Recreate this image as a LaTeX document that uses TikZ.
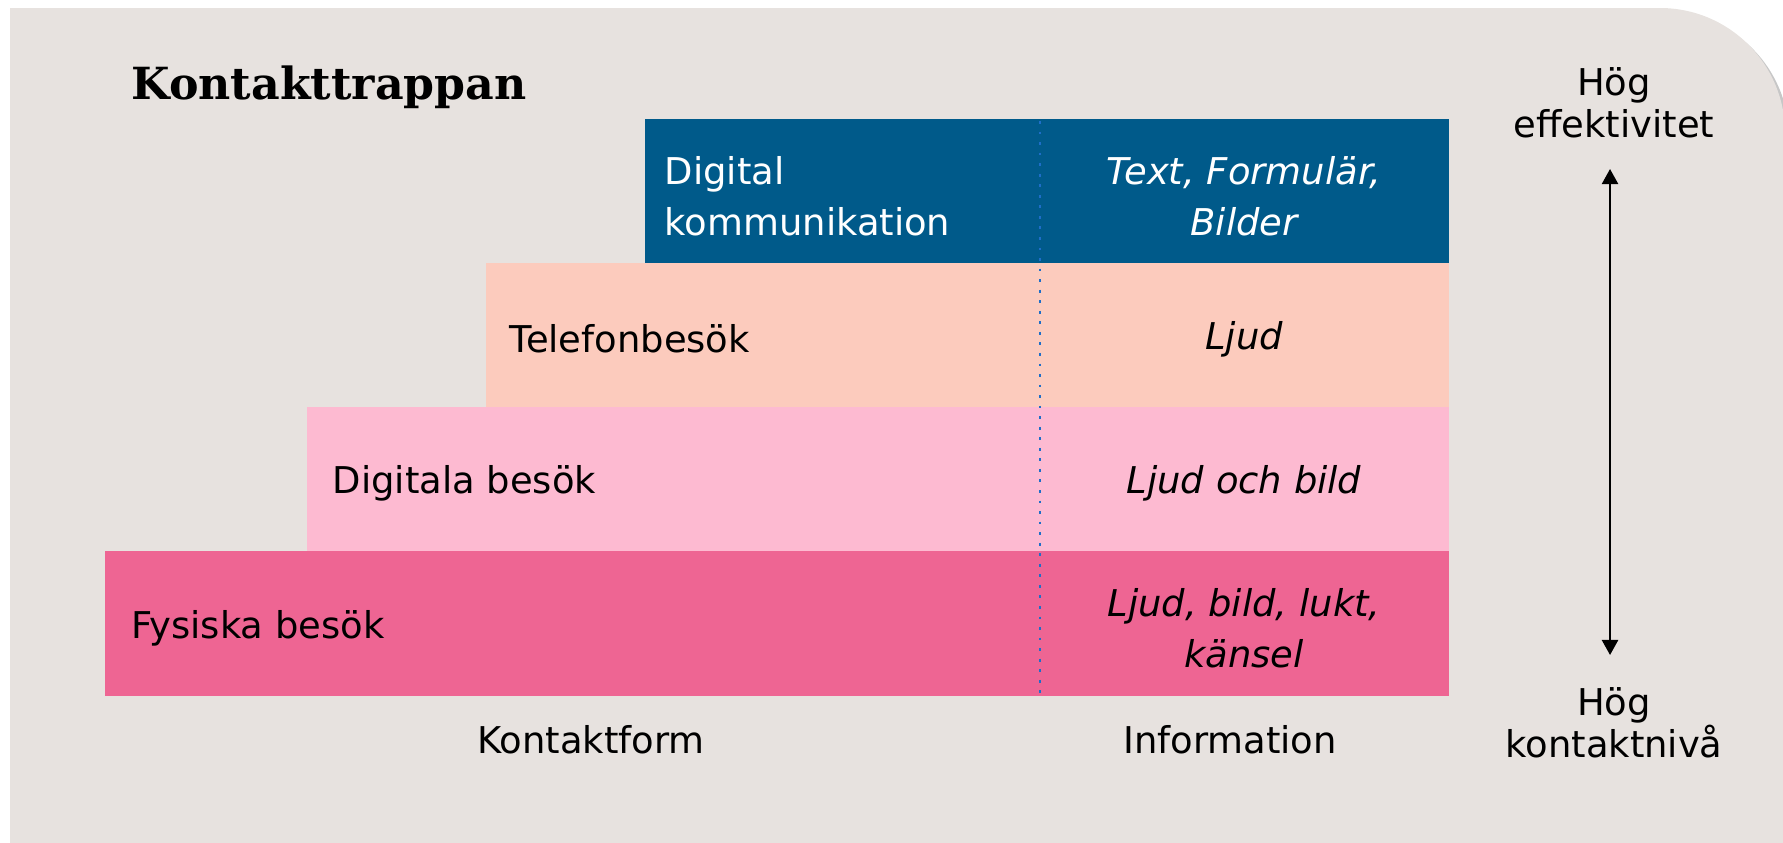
\documentclass[tikz,border=0pt]{standalone}
\usepackage{fontspec}
\setmainfont{DejaVu Sans}
\newfontfamily\titlefont{DejaVu Serif}
\usetikzlibrary{arrows.meta}
\definecolor{bgcol}{RGB}{231,226,223}
\definecolor{stepblue}{RGB}{0,90,138}
\definecolor{steppeach}{RGB}{252,203,189}
\definecolor{steppink}{RGB}{253,186,209}
\definecolor{stepred}{RGB}{238,101,147}
\definecolor{dotblue}{RGB}{30,110,200}
\tikzset{
  steptxt/.style={inner sep=0pt,anchor=west,align=left},
  infotxt/.style={inner sep=0pt,align=center,font=\fontsize{10.5}{14.5}\selectfont\itshape},
  captxt/.style={inner sep=0pt,align=center,font=\fontsize{10.5}{11.8}\selectfont}
}

\begin{document}
\begin{tikzpicture}[x=0.1mm,y=-0.1mm,font=\fontsize{10.5}{14.5}\selectfont]
\useasboundingbox (0,0) rectangle (1783,842);
% card
\fill[black!22] (14,12)--(1664,12) arc[start angle=-90,end angle=0,radius=125]--(1789,850)--(14,850)--cycle;
\fill[bgcol] (10,8)--(1660,8) arc[start angle=-90,end angle=0,radius=125]--(1785,850)--(10,850)--cycle;
\node[inner sep=0pt,anchor=west,font=\titlefont\fontsize{12.6}{14}\selectfont\bfseries] (title) at (131,87) {Kontakttrappan};
% steps
\fill[stepblue] (645,119) rectangle (1449,263);
\fill[steppeach] (486,263) rectangle (1449,407);
\fill[steppink] (307,407) rectangle (1449,551);
\fill[stepred] (105,551) rectangle (1449,696);
\draw[dotblue,line width=0.8pt,dash pattern=on 0.8pt off 2.2pt] (1040,121)--(1040,696);
\node[steptxt,white] (dk) at (664,196) {Digital\\kommunikation};
\node[infotxt,white] (dkinfo) at (1244,196) {Text, Formulär,\\Bilder};
\node[steptxt] (tel) at (509,339) {Telefonbesök};
\node[infotxt] (telinfo) at (1244,339) {Ljud};
\node[steptxt] (dig) at (332,483) {Digitala besök};
\node[infotxt] (diginfo) at (1244,483) {Ljud och bild};
\node[steptxt] (fys) at (131,628) {Fysiska besök};
\node[infotxt] (fysinfo) at (1244,628) {Ljud, bild, lukt,\\känsel};
% axis captions
\node[captxt] (form) at (591,740) {Kontaktform};
\node[captxt] (info) at (1230,740) {Information};
\node[captxt] (hi) at (1614,103) {Hög\\effektivitet};
\node[captxt] (lo) at (1614,723) {Hög\\kontaktnivå};
\coordinate (atop) at (1610,169);
\coordinate (abot) at (1610,655);
\draw[line width=0.6pt,{Triangle[width=4.6pt,length=4.3pt]}-{Triangle[width=4.6pt,length=4.3pt]}] (atop)--(abot);
\end{tikzpicture}
\end{document}
